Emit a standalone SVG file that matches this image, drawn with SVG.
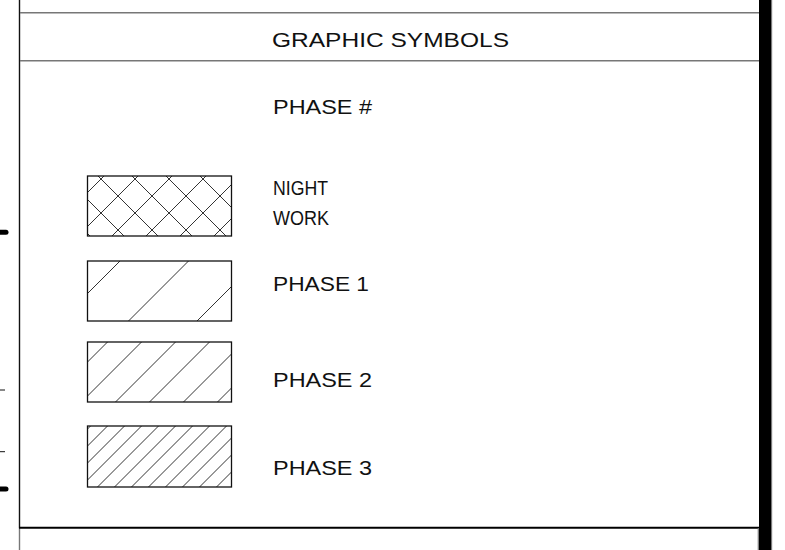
<svg xmlns="http://www.w3.org/2000/svg" width="785" height="550" viewBox="0 0 785 550">
<style>
.lbl{font-family:"Liberation Sans",Arial,sans-serif;font-size:20px;fill:#111}
.box{fill:none;stroke:#111;stroke-width:1.3}
.h{stroke:#333;stroke-width:1}
.rule{stroke:#777;stroke-width:1.4}
</style>
<defs>
<clipPath id="c0"><rect x="87.5" y="176" width="144" height="60"/></clipPath>
<clipPath id="c1"><rect x="87.5" y="261" width="144" height="60"/></clipPath>
<clipPath id="c2"><rect x="87.5" y="342" width="144" height="60"/></clipPath>
<clipPath id="c3"><rect x="87.5" y="426" width="144" height="61"/></clipPath>
</defs>
<rect width="785" height="550" fill="#fff"/>
<g id="frame">
<line x1="19.5" y1="0" x2="19.5" y2="528" stroke="#111" stroke-width="1.4"/>
<line x1="19.5" y1="528" x2="19.5" y2="550" stroke="#777" stroke-width="1.4"/>
<line class="rule" x1="20" y1="12.7" x2="759" y2="12.7"/>
<line class="rule" x1="20" y1="60.7" x2="759" y2="60.7"/>
<line x1="19" y1="527.7" x2="759" y2="527.7" stroke="#000" stroke-width="2"/>
<line x1="758.3" y1="528" x2="758.3" y2="550" stroke="#777" stroke-width="1.2"/>
<rect x="759" y="0" width="12.7" height="550" fill="#000"/>
<line x1="772.2" y1="0" x2="772.2" y2="550" stroke="#ddd" stroke-width="1"/>
<line x1="0" y1="232.3" x2="6" y2="232.3" stroke="#000" stroke-width="5" stroke-linecap="round"/>
<line x1="0" y1="489" x2="6" y2="489" stroke="#000" stroke-width="5" stroke-linecap="round"/>
<line x1="0" y1="390" x2="5" y2="390" stroke="#111" stroke-width="1"/>
<line x1="0" y1="451.7" x2="5" y2="451.7" stroke="#111" stroke-width="1"/>
</g>
<g id="title"><text class="lbl" x="272" y="47" textLength="237" lengthAdjust="spacingAndGlyphs">GRAPHIC SYMBOLS</text></g>
<g id="phase-header"><text class="lbl" x="273" y="114" textLength="99" lengthAdjust="spacingAndGlyphs">PHASE #</text></g>
<g id="night-work">
<g clip-path="url(#c0)">
<path class="h" d="M30,250 L130,150 M64,250 L164,150 M98,250 L198,150 M132,250 L232,150 M166,250 L266,150 M200,250 L300,150 M234,250 L334,150"/>
<path class="h" d="M38,150 L138,250 M72,150 L172,250 M106,150 L206,250 M140,150 L240,250 M174,150 L274,250 M208,150 L308,250 M4,150 L104,250"/>
</g>
<rect class="box" x="87.5" y="176" width="144" height="60"/>
<text class="lbl" x="273" y="195" textLength="55" lengthAdjust="spacingAndGlyphs">NIGHT</text>
<text class="lbl" x="273" y="225" textLength="56" lengthAdjust="spacingAndGlyphs">WORK</text>
</g>
<g id="phase-1">
<g clip-path="url(#c1)">
<path class="h" d="M51,330 L131,250 M119.5,330 L199.5,250 M188,330 L268,250"/>
</g>
<rect class="box" x="87.5" y="261" width="144" height="60"/>
<text class="lbl" x="273" y="291" textLength="96" lengthAdjust="spacingAndGlyphs">PHASE 1</text>
</g>
<g id="phase-2">
<g clip-path="url(#c2)">
<path class="h" d="M39.5,410 L119.5,330 M73.5,410 L153.5,330 M107.5,410 L187.5,330 M141.5,410 L221.5,330 M175.5,410 L255.5,330 M209.5,410 L289.5,330"/>
</g>
<rect class="box" x="87.5" y="342" width="144" height="60"/>
<text class="lbl" x="273" y="387" textLength="99" lengthAdjust="spacingAndGlyphs">PHASE 2</text>
</g>
<g id="phase-3">
<g clip-path="url(#c3)">
<path class="h" d="M26.5,490 L106.5,410 M43.5,490 L123.5,410 M60.5,490 L140.5,410 M77.5,490 L157.5,410 M94.5,490 L174.5,410 M111.5,490 L191.5,410 M128.5,490 L208.5,410 M145.5,490 L225.5,410 M162.5,490 L242.5,410 M179.5,490 L259.5,410 M196.5,490 L276.5,410 M213.5,490 L293.5,410 M230.5,490 L310.5,410"/>
</g>
<rect class="box" x="87.5" y="426" width="144" height="61"/>
<text class="lbl" x="273" y="475" textLength="99" lengthAdjust="spacingAndGlyphs">PHASE 3</text>
</g>
</svg>
